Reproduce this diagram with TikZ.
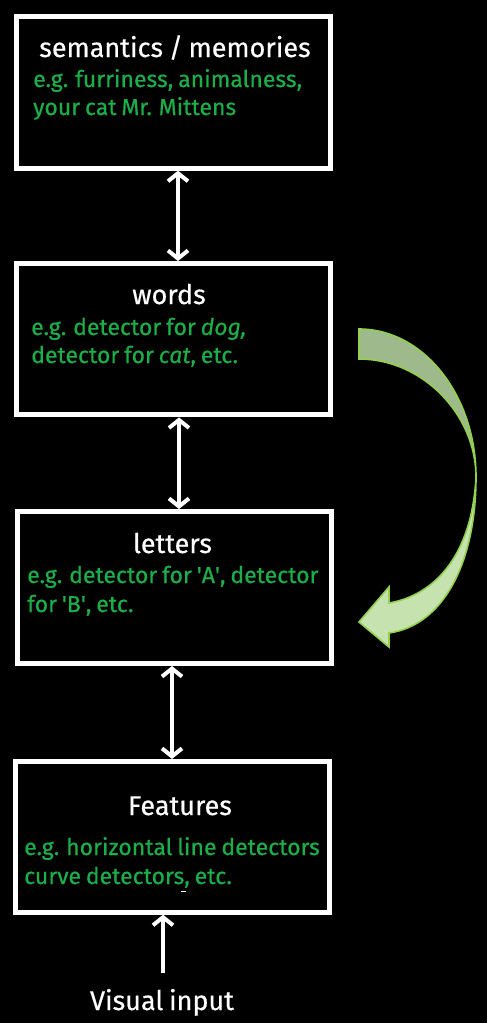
\documentclass[tikz,border=0pt]{standalone}
\usepackage{fontspec}
\setmainfont[FakeBold=0.5,WordSpace=0.8]{Fira Sans}
\usetikzlibrary{arrows.meta}
\definecolor{txtgreen}{RGB}{28,174,72}
\definecolor{arrowedge}{RGB}{146,208,80}
\definecolor{arrowdark}{RGB}{158,186,140}
\definecolor{arrowlight}{RGB}{198,226,175}
\begin{document}
\begin{tikzpicture}[x=1pt,y=-1pt,
  layerbox/.style={draw=white, line width=5pt, fill=black, minimum width=314pt, inner sep=0pt},
  titletext/.style={text=white, font=\fontsize{27}{30}\selectfont, anchor=base, inner sep=0pt},
  bodytext/.style={text=txtgreen, font=\fontsize{23}{28}\selectfont, anchor=base west, inner sep=0pt},
  tipbarb/.tip={Straight Barb[length=8pt,width=20pt]},
  biarrow/.style={draw=white, line width=4pt, tipbarb-tipbarb},
  uparrow/.style={draw=white, line width=4pt, -tipbarb},
  bandedge/.style={draw=arrowedge, line width=1.6pt, line join=miter}
]
\useasboundingbox[fill=black] (0,0) rectangle (487,1023);

% boxes
\node[layerbox, minimum height=151.7pt] (box1) at (173.5,92.3) {};
\node[layerbox, minimum height=151.3pt] (box2) at (173.5,339.2) {};
\node[layerbox, minimum height=152pt] (box3) at (174.5,587.5) {};
\node[layerbox, minimum height=150.7pt, minimum width=313.7pt] (box4) at (172.7,836.8) {};

% texts
\node[titletext] (t1) at (175,57) {semantics / memories};
\node[bodytext] (b1a) at (33,87) {e.g. furriness, animalness,};
\node[bodytext] (b1b) at (33,115) {your cat Mr. Mittens};

\node[titletext] (t2) at (169,304) {words};
\node[bodytext] (b2a) at (31,335) {e.g. detector for \textit{dog,}};
\node[bodytext] (b2b) at (31,363) {detector for \textit{cat}, etc.};

\node[titletext] (t3) at (172.5,553) {letters};
\node[bodytext] (b3a) at (27,583) {e.g. detector for \textquotesingle A\textquotesingle, detector};
\node[bodytext] (b3b) at (27,612) {for \textquotesingle B\textquotesingle, etc.};

\node[titletext] (t4) at (180,815) {Features};
\node[bodytext] (b4a) at (24,855) {e.g. horizontal line detectors};
\node[bodytext] (b4b) at (24,884) {curve detectors, etc.};
\draw[white, line width=1pt] (181,891) -- (186,891);

\node[titletext] (vin) at (162,1010) {Visual input};

% vertical arrows
\coordinate (x1) at (178,0);
\coordinate (x2) at (179,0);
\coordinate (x3) at (172,0);
\coordinate (vtail) at (163,973);
\draw[biarrow] (x1 |- box1.south) -- (x1 |- box2.north);
\draw[biarrow] (x2 |- box2.south) -- (x2 |- box3.north);
\draw[biarrow] (x3 |- box3.south) -- (x3 |- box4.north);
\draw[uparrow] (vtail) -- (vtail |- box4.south);

% curved block arrow
\filldraw[fill=arrowdark, bandedge] (359,329) .. controls (423.6,329) and (476,395.3) .. (476,477)
   .. controls (476,415) and (423,359) .. (359,359) -- cycle;
\filldraw[fill=arrowlight, bandedge] (476,477) .. controls (476,560) and (445,625) .. (389,633)
   -- (389,647) -- (359,622) -- (389,587) -- (389,603)
   .. controls (435,595) and (472,555) .. (476,477) -- cycle;
\end{tikzpicture}
\end{document}
